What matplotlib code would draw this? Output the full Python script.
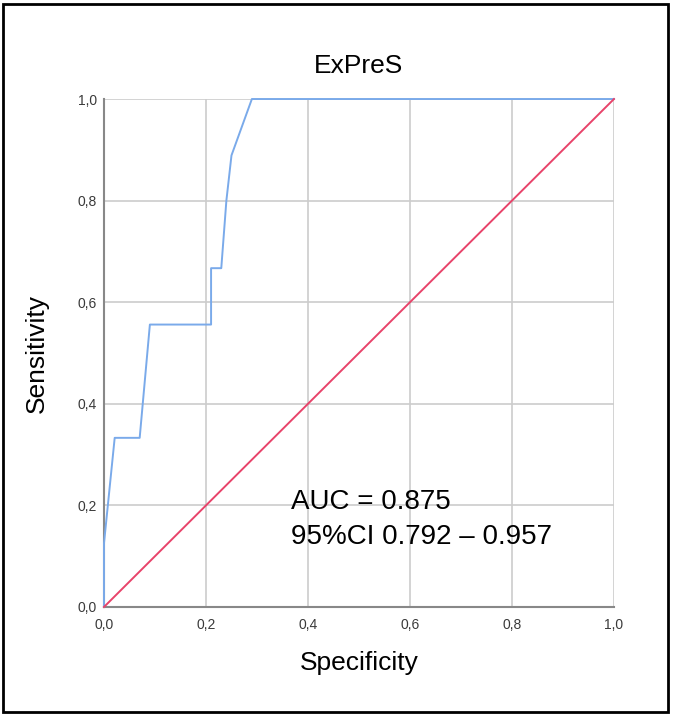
import numpy as np
import matplotlib.pyplot as plt
from matplotlib.patches import Rectangle

plt.rcParams['font.family'] = ['Liberation Sans', 'DejaVu Sans']

# ROC curve points
spec = [0.0, 0.0, 0.021, 0.07, 0.09, 0.21, 0.21, 0.23, 0.24, 0.25, 0.29, 1.0]
sens = [0.0, 0.125, 0.333, 0.333, 0.556, 0.556, 0.667, 0.667, 0.8, 0.889, 1.0, 1.0]
ref_line = [0.0, 1.0]
ticks = [0.0, 0.2, 0.4, 0.6, 0.8, 1.0]
tick_labels = ['0,0', '0,2', '0,4', '0,6', '0,8', '1,0']

fig = plt.figure(figsize=(6.73, 7.18), dpi=100)
ax = fig.add_axes([0.1545, 0.1546, 0.7578, 0.7075])

ax.plot(spec, sens, color='#7aaaea', lw=1.4, zorder=3, clip_on=False)
ax.plot(ref_line, ref_line, color='#e8436a', lw=1.4, zorder=3, clip_on=False)

ax.set_xlim(0, 1)
ax.set_ylim(0, 1)
ax.set_xticks(ticks)
ax.set_yticks(ticks)
ax.set_xticklabels(tick_labels)
ax.set_yticklabels(tick_labels)
ax.tick_params(length=0, labelsize=10, colors='#3a3a3a')
ax.tick_params(axis='x', pad=8)
ax.tick_params(axis='y', pad=5)
ax.grid(True, color='#cccccc', lw=1.2)
ax.set_axisbelow(True)
for s in ['top', 'right']:
    ax.spines[s].set_visible(False)
for s in ['left', 'bottom']:
    ax.spines[s].set_color('#888888')
    ax.spines[s].set_linewidth(1.5)

ax.set_title('ExPreS', fontsize=19, pad=19)
ax.set_xlabel('Specificity', fontsize=19)
ax.set_ylabel('Sensitivity', fontsize=19)
ax.xaxis.set_label_coords(0.5, -0.11)
ax.xaxis.label.set_va('center')
ax.yaxis.set_label_coords(-0.131, 0.5)
ax.yaxis.label.set_va('center')

ax.text(0.366, 0.207, 'AUC = 0.875', fontsize=20, va='center', ha='left')
ax.text(0.366, 0.138, '95%CI 0.792 \u2013 0.957', fontsize=20, va='center', ha='left')

fig.patches.append(Rectangle((0.0045, 0.0084), 0.988, 0.986, transform=fig.transFigure,
                             fill=False, edgecolor='black', lw=2))

fig.savefig('out.png', dpi=100)
